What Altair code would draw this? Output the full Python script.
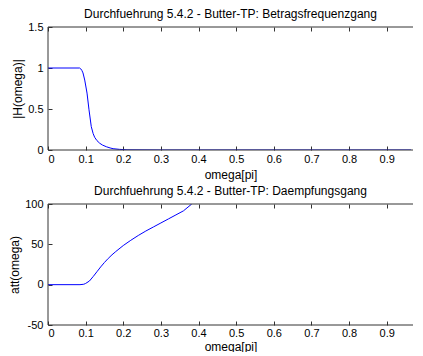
import altair as alt
import pandas as pd

# --- data ---
x_mag = [0.0, 0.084, 0.087, 0.09, 0.093, 0.0976, 0.1037, 0.109, 0.115, 0.12, 0.124,
         0.13, 0.1375, 0.145, 0.155, 0.165, 0.173, 0.19, 0.21, 0.3, 0.5, 0.7, 0.965]
h_mag = [1.0, 1.0, 0.99, 0.97, 0.94, 0.853, 0.694, 0.49, 0.285, 0.2, 0.155,
         0.115, 0.082, 0.06, 0.04, 0.025, 0.016, 0.008, 0.002, 0.0, 0.0, 0.0, 0.0]

x_att = [0.0, 0.085, 0.095, 0.1, 0.11, 0.12, 0.13, 0.14, 0.15, 0.16, 0.17, 0.18,
         0.2, 0.22, 0.24, 0.26, 0.28, 0.3, 0.32, 0.34, 0.36, 0.382]
att = [0.0, 0.0, 0.5, 1.5, 4.5, 10.0, 16.0, 22.0, 27.5, 32.5, 37.0, 41.0,
       48.5, 55.0, 61.0, 66.5, 71.5, 76.5, 81.5, 86.5, 91.5, 100.0]

x_ticks = [0, 0.1, 0.2, 0.3, 0.4, 0.5, 0.6, 0.7, 0.8, 0.9]
x_domain = [0, 0.97]          # visible part of the 0..1 axis
mag_ticks = [0, 0.5, 1, 1.5]
mag_domain = [0, 1.5]
att_ticks = [-50, 0, 50, 100]
att_domain = [-50, 100]

title_mag = "Durchfuehrung 5.4.2 - Butter-TP: Betragsfrequenzgang"
title_att = "Durchfuehrung 5.4.2 - Butter-TP: Daempfungsgang"

FONT = "Liberation Sans"
LBL = "datum.value < 0 ? '-' + format(-datum.value, '~g') : format(datum.value, '~g')"
AXC = "#333333"

df_mag = pd.DataFrame({"x": x_mag, "v": h_mag})
df_att = pd.DataFrame({"x": x_att, "v": att})


def panel(df, ytitle, ydomain, yticks, title, height, lpad, tpad):
    xs = alt.Scale(domain=x_domain, nice=False, zero=False)
    ys = alt.Scale(domain=ydomain, nice=False, zero=False)
    base = alt.Chart(df)
    main = base.mark_line(color="#0000ff", strokeWidth=1, clip=True).encode(
        x=alt.X("x:Q", scale=xs, axis=alt.Axis(
            values=x_ticks, orient="bottom", offset=-4, tickSize=4, domain=False,
            grid=False, title="omega[pi]", labelExpr=LBL, labelPadding=lpad,
            titlePadding=tpad)),
        y=alt.Y("v:Q", scale=ys, axis=alt.Axis(
            values=yticks, orient="left", offset=-4, tickSize=4, domain=False,
            grid=False, title=ytitle, labelExpr=LBL, labelPadding=5,
            titlePadding=3)),
    )
    ghost = base.mark_line(opacity=0).encode(
        x=alt.X("x:Q", scale=xs, axis=alt.Axis(
            values=x_ticks, orient="top", offset=-4, tickSize=4, domain=False,
            grid=False, labels=False, title=None)),
        y=alt.Y("v:Q", scale=ys, axis=None),
    )
    box = pd.DataFrame({
        "x": [x_domain[0], x_domain[0], x_domain[0]],
        "x2": [x_domain[1], x_domain[1], x_domain[0]],
        "y": [ydomain[0], ydomain[1], ydomain[0]],
        "y2": [ydomain[0], ydomain[1], ydomain[1]],
    })
    border = alt.Chart(box).mark_rule(color=AXC, strokeWidth=1).encode(
        x=alt.X("x:Q", scale=xs, axis=None), x2="x2:Q",
        y=alt.Y("y:Q", scale=ys, axis=None), y2="y2:Q",
    )
    return alt.layer(
        main, ghost, border,
        title=alt.Title(title, fontSize=12, font=FONT, fontWeight="normal",
                        color="black", offset=0),
    ).resolve_axis(x="independent", y="independent").properties(width=365, height=height)


top = panel(df_mag, "|H(omega)|", mag_domain, mag_ticks, title_mag, 123, 3, 5)
bottom = panel(df_att, "att(omega)", att_domain, att_ticks, title_att, 121, 2, 3)

chart = alt.vconcat(top, bottom, spacing=5).properties(
    padding={"left": 0, "top": 0, "right": 0, "bottom": 0}
).configure(
    background="white"
).configure_view(
    stroke=None
).configure_axis(
    labelFont=FONT, titleFont=FONT, labelFontSize=11, titleFontSize=12,
    labelColor="black", titleColor="black", tickColor=AXC,
    titleFontWeight="normal"
)

chart.save("out.html", embed_options={"renderer": "svg", "actions": False})
